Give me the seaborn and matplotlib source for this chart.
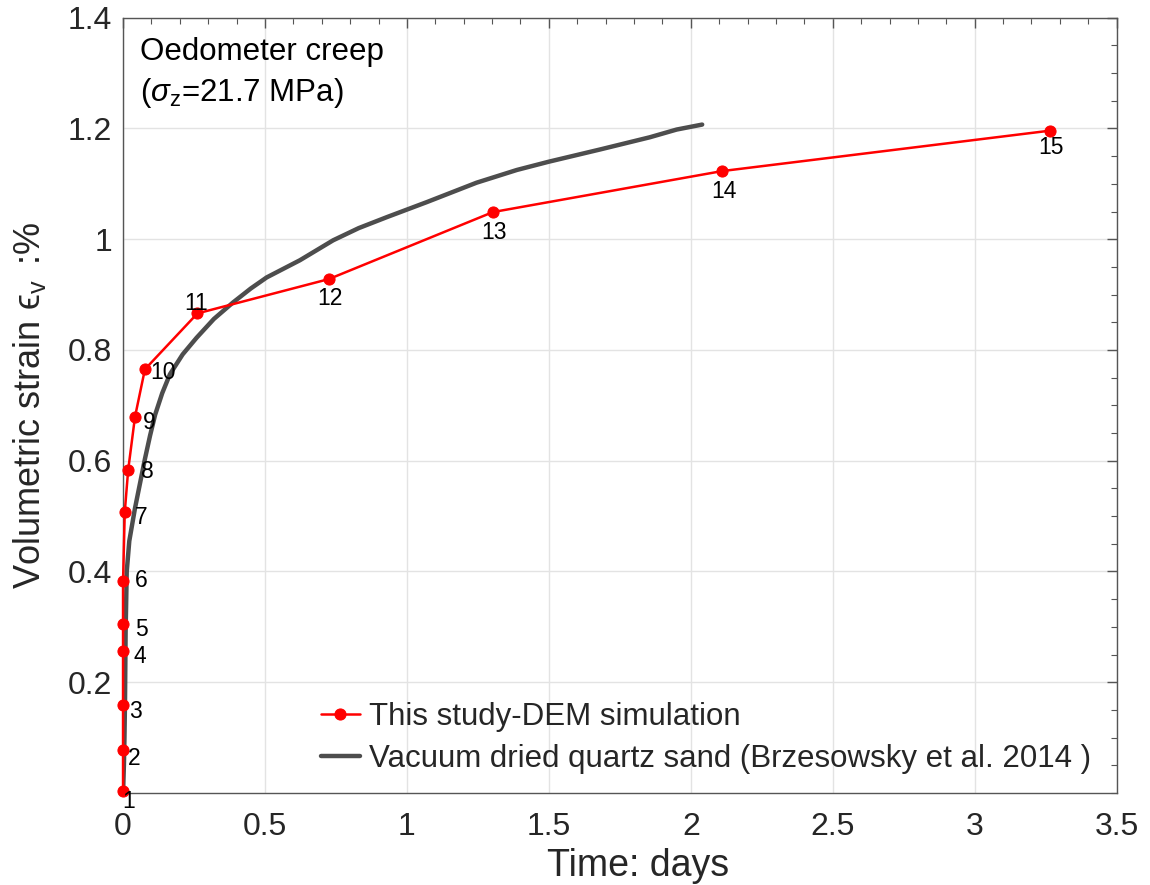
import numpy as np
import pandas as pd
import matplotlib
matplotlib.use("Agg")
import matplotlib.pyplot as plt
import seaborn as sns
from matplotlib.ticker import MultipleLocator

# ---- data ----
dem_labels = ["1", "2", "3", "4", "5", "6", "7", "8", "9", "10", "11", "12", "13", "14", "15"]
dem_time = [0.0, 0.0, 0.0, 0.0, 0.0, 0.0, 0.006, 0.018, 0.042, 0.077, 0.262, 0.725, 1.303, 2.11, 3.265]
dem_strain = [0.004, 0.077, 0.159, 0.257, 0.305, 0.383, 0.507, 0.583, 0.679, 0.765, 0.866, 0.928, 1.049, 1.123, 1.196]

sand_time = [0.0, 0.003, 0.005, 0.007, 0.009, 0.013, 0.022, 0.042, 0.077, 0.095, 0.113, 0.138, 0.165,
             0.21, 0.259, 0.32, 0.388, 0.45, 0.506, 0.623, 0.74, 0.83, 0.93, 1.07, 1.245, 1.387, 1.50, 1.68,
             1.855, 1.95, 2.04]
sand_strain = [0.0, 0.05, 0.10, 0.17, 0.29, 0.40, 0.455, 0.514, 0.603, 0.645, 0.683, 0.722, 0.756,
               0.792, 0.822, 0.856, 0.886, 0.911, 0.931, 0.962, 0.998, 1.02, 1.04, 1.067, 1.102, 1.125, 1.14, 1.162,
               1.184, 1.198, 1.207]

x_ticks = [0, 0.5, 1, 1.5, 2, 2.5, 3, 3.5]
x_ticklabels = ["0", "0.5", "1", "1.5", "2", "2.5", "3", "3.5"]
y_ticks = [0.2, 0.4, 0.6, 0.8, 1.0, 1.2, 1.4]
y_ticklabels = ["0.2", "0.4", "0.6", "0.8", "1", "1.2", "1.4"]

# label offsets in points (style, not data)
label_offsets = [(4, -8), (8, -6), (9, -5), (12, -4), (13, -4), (13, 0), (12, -4),
                 (14, -1), (10, -4), (13, -2), (-1, 7), (1, -14), (1, -15), (1, -15), (1, -12)]

sns.set_theme(style="white")
plt.rcParams["font.family"] = ["Liberation Sans", "DejaVu Sans"]
plt.rcParams["mathtext.fontset"] = "custom"
plt.rcParams["mathtext.rm"] = "Liberation Sans"
plt.rcParams["mathtext.it"] = "Liberation Sans:italic"

fig = plt.figure(figsize=(11.5, 8.85), dpi=100)
ax = fig.add_axes([0.107, 0.104, 0.864, 0.876])

dem_df = pd.DataFrame({"t": dem_time, "e": dem_strain})
sand_df = pd.DataFrame({"t": sand_time, "e": sand_strain})

sns.lineplot(data=sand_df, x="t", y="e", ax=ax, color="#4d4d4d", linewidth=3.2,
             sort=False, estimator=None, label="Vacuum dried quartz sand (Brzesowsky et al. 2014 )",
             zorder=2)
sns.lineplot(data=dem_df, x="t", y="e", ax=ax, color="#ff0000", linewidth=1.8,
             marker="o", markersize=8, markeredgecolor="#ff0000", sort=False, estimator=None,
             label="This study-DEM simulation", zorder=3, clip_on=False)

for lab, xv, yv, off in zip(dem_labels, dem_time, dem_strain, label_offsets):
    ax.annotate(lab, (xv, yv), xytext=off, textcoords="offset points",
                ha="center", va="center", fontsize=16.5, color="black", zorder=4)

ax.set_xlim(0, 3.5)
ax.set_ylim(0, 1.4)
ax.set_xticks(x_ticks)
ax.set_xticklabels(x_ticklabels)
ax.set_yticks(y_ticks)
ax.set_yticklabels(y_ticklabels)
ax.xaxis.set_minor_locator(MultipleLocator(0.1))
ax.yaxis.set_minor_locator(MultipleLocator(0.05))
ax.tick_params(which="both", direction="in", top=True, right=True, color="#555555")
ax.tick_params(which="major", length=7, width=1, labelsize=23, labelcolor="#262626")
ax.tick_params(axis="x", which="major", pad=14)
ax.tick_params(axis="y", which="major", pad=8)
ax.tick_params(which="minor", length=4, width=0.8)
ax.grid(True, which="major", color="#e3e3e3", linewidth=1)
for s in ax.spines.values():
    s.set_color("#555555")
    s.set_linewidth(1)

ax.set_xlabel("Time: days", fontsize=27, color="#262626", labelpad=4)
ax.xaxis.label.set_x(0.518)
ax.set_ylabel("Volumetric strain \u03f5$_{\\mathrm{v}}$$\\,$ :%", fontsize=26, color="#262626",
              labelpad=14)

ax.text(0.017, 0.975, "Oedometer creep\n($\\sigma_{\\mathrm{z}}$=21.7 MPa)", transform=ax.transAxes,
        ha="left", va="top", fontsize=22.5, color="black", linespacing=1.35)

handles, labels = ax.get_legend_handles_labels()
order = [1, 0]
leg = ax.legend([handles[i] for i in order], [labels[i] for i in order],
                loc="lower left", bbox_to_anchor=(0.18, 0.0), frameon=False,
                fontsize=22.5, handlelength=1.25, handletextpad=0.3, labelspacing=0.4,
                borderaxespad=0.2)

fig.savefig("out.png", dpi=100)
